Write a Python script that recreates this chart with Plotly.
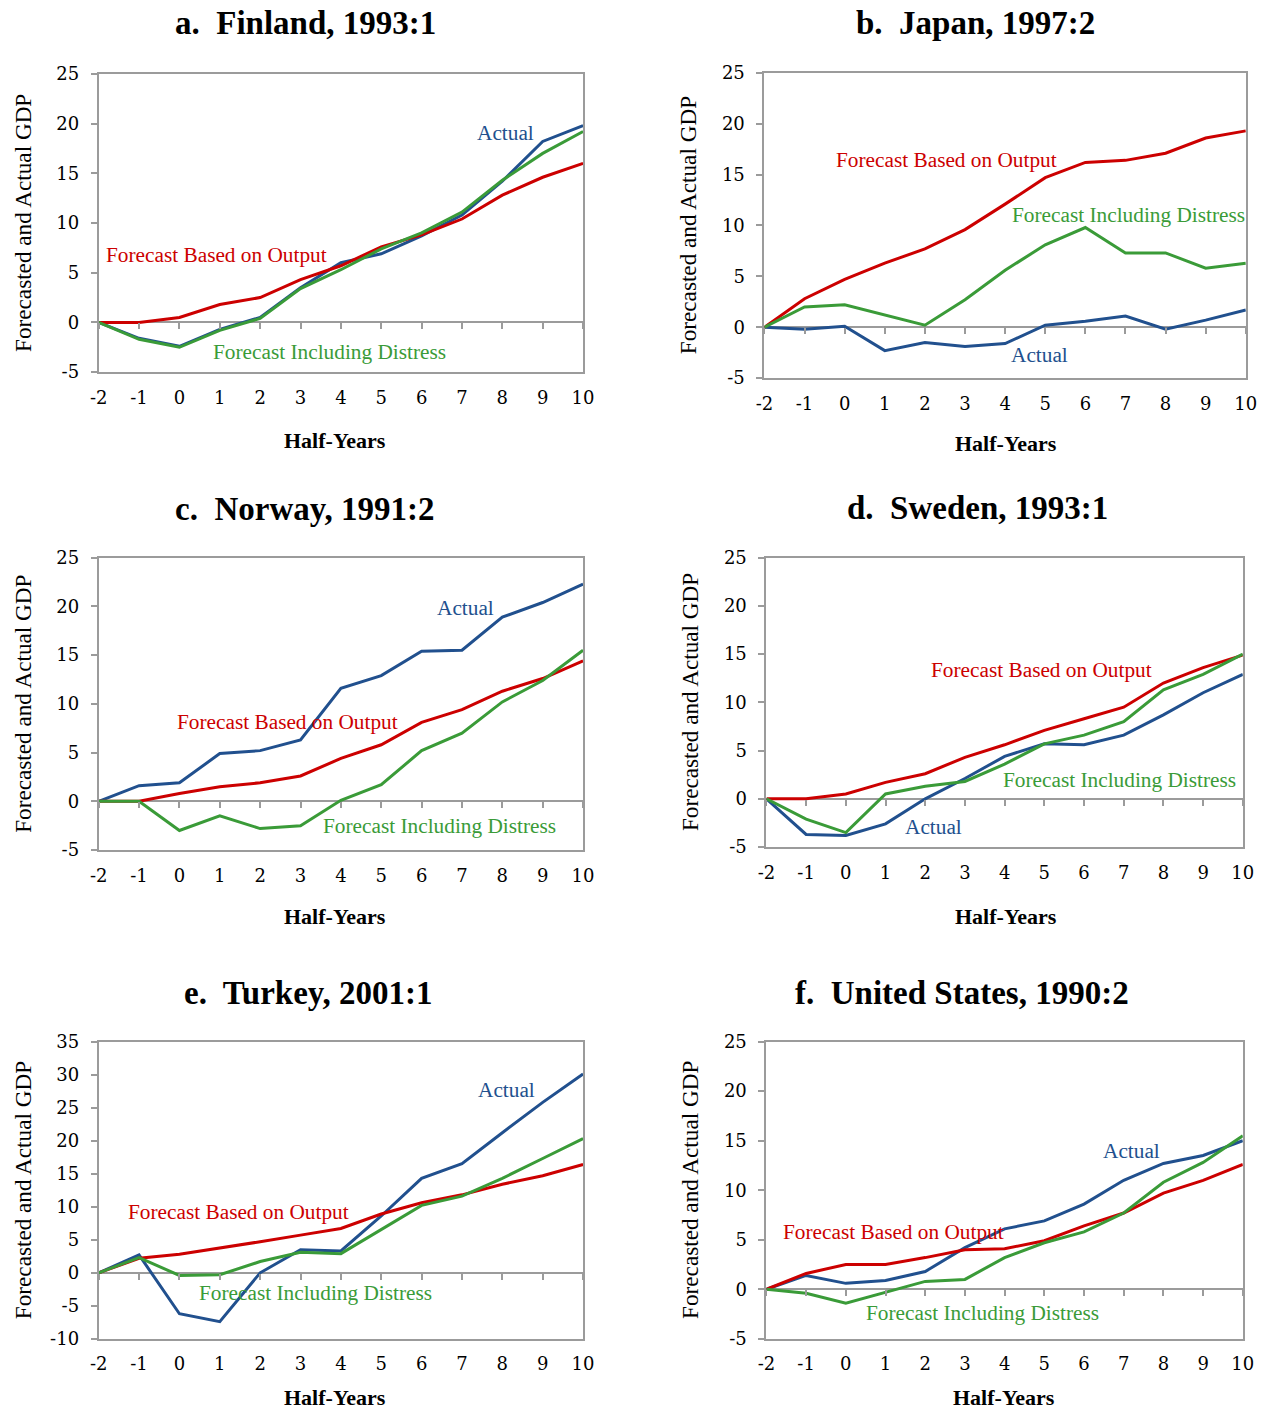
import plotly.graph_objects as go

W, H = 1263, 1416
# measured page placement: screen = OFF + SC * figure_px
OFF, SC = 8.0, 0.9875

# ---------------- data ----------------
halfyears = [-2, -1, 0, 1, 2, 3, 4, 5, 6, 7, 8, 9, 10]
x_tick_labels = ["-2", "-1", "0", "1", "2", "3", "4", "5", "6", "7", "8", "9", "10"]

y_ticks_std = [-5, 0, 5, 10, 15, 20, 25]
y_tick_labels_std = ["-5", "0", "5", "10", "15", "20", "25"]
y_ticks_turkey = [-10, -5, 0, 5, 10, 15, 20, 25, 30, 35]
y_tick_labels_turkey = ["-10", "-5", "0", "5", "10", "15", "20", "25", "30", "35"]

panel_titles = ["a.\u00a0 Finland, 1993:1", "b.\u00a0 Japan, 1997:2", "c.\u00a0 Norway, 1991:2",
                "d.\u00a0 Sweden, 1993:1", "e.\u00a0 Turkey, 2001:1", "f.\u00a0 United States, 1990:2"]

finland_actual   = [0, -1.6, -2.4, -0.7, 0.5, 3.5, 6.0, 6.9, 8.7, 10.8, 14.2, 18.2, 19.8]
finland_output   = [0, 0.0, 0.5, 1.8, 2.5, 4.3, 5.7, 7.6, 8.8, 10.4, 12.8, 14.6, 16.0]
finland_distress = [0, -1.7, -2.5, -0.8, 0.4, 3.4, 5.3, 7.4, 9.0, 11.1, 14.3, 17.0, 19.2]

japan_actual   = [0, -0.2, 0.1, -2.3, -1.5, -1.9, -1.6, 0.2, 0.6, 1.1, -0.2, 0.7, 1.7]
japan_output   = [0, 2.8, 4.7, 6.3, 7.7, 9.6, 12.1, 14.7, 16.2, 16.4, 17.1, 18.6, 19.3]
japan_distress = [0, 2.0, 2.2, 1.2, 0.2, 2.7, 5.6, 8.1, 9.8, 7.3, 7.3, 5.8, 6.3]

norway_actual   = [0, 1.6, 1.9, 4.9, 5.2, 6.3, 11.6, 12.9, 15.4, 15.5, 18.9, 20.4, 22.3]
norway_output   = [0, 0.0, 0.8, 1.5, 1.9, 2.6, 4.4, 5.8, 8.1, 9.4, 11.3, 12.6, 14.4]
norway_distress = [0, 0.0, -3.0, -1.5, -2.8, -2.5, 0.1, 1.7, 5.2, 7.0, 10.2, 12.4, 15.5]

sweden_actual   = [0, -3.7, -3.8, -2.6, 0.0, 2.1, 4.4, 5.7, 5.6, 6.6, 8.7, 11.0, 12.9]
sweden_output   = [0, 0.0, 0.5, 1.7, 2.6, 4.3, 5.6, 7.1, 8.3, 9.5, 12.0, 13.6, 14.9]
sweden_distress = [0, -2.1, -3.5, 0.5, 1.3, 1.8, 3.6, 5.7, 6.6, 8.0, 11.3, 12.9, 15.0]

turkey_actual   = [0, 2.7, -6.2, -7.4, 0.0, 3.5, 3.3, 8.6, 14.3, 16.5, 21.2, 25.8, 30.1]
turkey_output   = [0, 2.2, 2.8, 3.7, 4.7, 5.7, 6.7, 8.9, 10.6, 11.8, 13.4, 14.7, 16.4]
turkey_distress = [0, 2.3, -0.4, -0.3, 1.7, 3.1, 2.9, 6.6, 10.2, 11.6, 14.3, 17.3, 20.3]

us_actual   = [0, 1.4, 0.6, 0.9, 1.8, 4.2, 6.1, 6.9, 8.6, 11.0, 12.7, 13.5, 15.0]
us_output   = [0, 1.6, 2.5, 2.5, 3.2, 4.0, 4.1, 4.9, 6.4, 7.7, 9.7, 11.0, 12.6]
us_distress = [0, -0.4, -1.4, -0.3, 0.8, 1.0, 3.2, 4.7, 5.8, 7.7, 10.8, 12.8, 15.5]

series_names = ["Actual", "Forecast Based on Output", "Forecast Including Distress"]

# ---------------- styling / layout ----------------
BLUE, RED, GREEN = "#21508E", "#CC0000", "#3A9B38"
FRAME = "#9B9B9B"
SERIF = "Liberation Serif"
NUMFONT = "DejaVu Serif"


def px_x(p):
    return ((p - OFF) / SC) / W


def px_y(p):
    return 1 - ((p - OFF) / SC) / H


panels = [
    dict(data=(finland_actual, finland_output, finland_distress), box=(98, 71, 584, 370),
         yr=(-5, 25), yt=(y_ticks_std, y_tick_labels_std), title_xy=(306, 20), xt_xy=(335, 439),
         lab=[(8.07, 19.1), (0.92, 6.8), (3.71, -3.0)]),
    dict(data=(japan_actual, japan_output, japan_distress), box=(766, 70, 1249, 376),
         yr=(-5, 25), yt=(y_ticks_std, y_tick_labels_std), title_xy=(978, 20), xt_xy=(1008, 442),
         lab=[(4.86, -2.75), (2.55, 16.4), (7.07, 11.0)]),
    dict(data=(norway_actual, norway_output, norway_distress), box=(98, 556, 584, 849),
         yr=(-5, 25), yt=(y_ticks_std, y_tick_labels_std), title_xy=(305, 507), xt_xy=(335, 916),
         lab=[(7.09, 19.85), (2.69, 8.1), (6.44, -2.56)]),
    dict(data=(sweden_actual, sweden_output, sweden_distress), box=(768, 556, 1246, 846),
         yr=(-5, 25), yt=(y_ticks_std, y_tick_labels_std), title_xy=(980, 506), xt_xy=(1008, 916),
         lab=[(2.2, -2.9), (4.93, 13.4), (6.89, 1.96)]),
    dict(data=(turkey_actual, turkey_output, turkey_distress), box=(98, 1041, 584, 1339),
         yr=(-10, 35), yt=(y_ticks_turkey, y_tick_labels_turkey), title_xy=(308, 992), xt_xy=(335, 1398),
         lab=[(8.1, 27.6), (1.46, 9.2), (3.38, -3.0)]),
    dict(data=(us_actual, us_output, us_distress), box=(768, 1041, 1246, 1339),
         yr=(-5, 25), yt=(y_ticks_std, y_tick_labels_std), title_xy=(964, 992), xt_xy=(1006, 1398),
         lab=[(7.2, 14.0), (1.19, 5.75), (3.45, -2.4)]),
]

colors = [BLUE, RED, GREEN]

fig = go.Figure()
layout = dict(width=W, height=H, margin=dict(l=0, r=0, t=0, b=0),
              paper_bgcolor="white", plot_bgcolor="white", showlegend=False)
annotations = []

for i, p in enumerate(panels, start=1):
    l, t, r, b = p["box"]
    xd = [px_x(l), px_x(r)]
    yd = [px_y(b), px_y(t)]
    ymin, ymax = p["yr"]
    xs = "" if i == 1 else str(i)
    xname, yname = "x" + xs, "y" + xs
    ov = str(i + 6)

    for k, (vals, col) in enumerate(zip(p["data"], colors)):
        fig.add_trace(go.Scatter(x=halfyears, y=vals, mode="lines", name=series_names[k],
                                 line=dict(color=col, width=3), xaxis=xname, yaxis=yname,
                                 hoverinfo="skip"))
    # invisible helper trace so the zero-line tick axis is drawn
    fig.add_trace(go.Scatter(x=halfyears, y=p["data"][0], mode="lines", opacity=0,
                             line=dict(width=0), xaxis="x" + ov, yaxis=yname, hoverinfo="skip"))

    layout["xaxis" + xs] = dict(domain=xd, anchor=yname, range=[-2, 10], showgrid=False,
                                zeroline=False, showline=True, mirror=True, linecolor=FRAME,
                                linewidth=2, ticks="", tickvals=halfyears, ticktext=x_tick_labels,
                                ticklabelstandoff=8,
                                tickfont=dict(family=NUMFONT, size=18, color="black"))
    layout["yaxis" + xs] = dict(domain=yd, anchor=xname, range=[ymin, ymax], showgrid=False,
                                zeroline=True, zerolinecolor=FRAME, zerolinewidth=2,
                                showline=True, mirror=True, linecolor=FRAME, linewidth=2,
                                ticks="outside", ticklen=6, tickwidth=2, tickcolor=FRAME,
                                tickvals=p["yt"][0], ticktext=p["yt"][1], ticklabelstandoff=8,
                                tickfont=dict(family=NUMFONT, size=18, color="black"))
    zero_pos = yd[0] + (0 - ymin) / (ymax - ymin) * (yd[1] - yd[0])
    layout["xaxis" + ov] = dict(overlaying=xname, anchor="free", position=zero_pos,
                                range=[-2, 10], showgrid=False, zeroline=False, showline=False,
                                ticks="outside", ticklen=6, tickwidth=2, tickcolor=FRAME,
                                tickvals=halfyears, showticklabels=False)

    # title
    tx, ty = p["title_xy"]
    annotations.append(dict(text="<b>" + panel_titles[i - 1] + "</b>", x=px_x(tx), y=px_y(ty),
                            xref="paper", yref="paper", xanchor="center", yanchor="middle",
                            showarrow=False, font=dict(family=SERIF, size=33, color="black")))
    # axis titles
    annotations.append(dict(text="Forecasted and Actual GDP", x=px_x(l - 76),
                            y=px_y((t + b) / 2), xref="paper", yref="paper",
                            xanchor="center", yanchor="middle", textangle=-90, showarrow=False,
                            font=dict(family=SERIF, size=23.2, color="black")))
    hx, hy = p["xt_xy"]
    annotations.append(dict(text="<b>Half-Years</b>", x=px_x(hx), y=px_y(hy), xref="paper",
                            yref="paper", xanchor="center", yanchor="middle", showarrow=False,
                            font=dict(family=SERIF, size=22, color="black")))
    # series labels
    for k, (lx, ly) in enumerate(p["lab"]):
        annotations.append(dict(text=series_names[k], x=lx, y=ly, xref=xname, yref=yname,
                                xanchor="center", yanchor="middle", showarrow=False,
                                font=dict(family=SERIF, size=21.3, color=colors[k])))

layout["annotations"] = annotations
fig.update_layout(**layout)
fig.write_html("out.html")
